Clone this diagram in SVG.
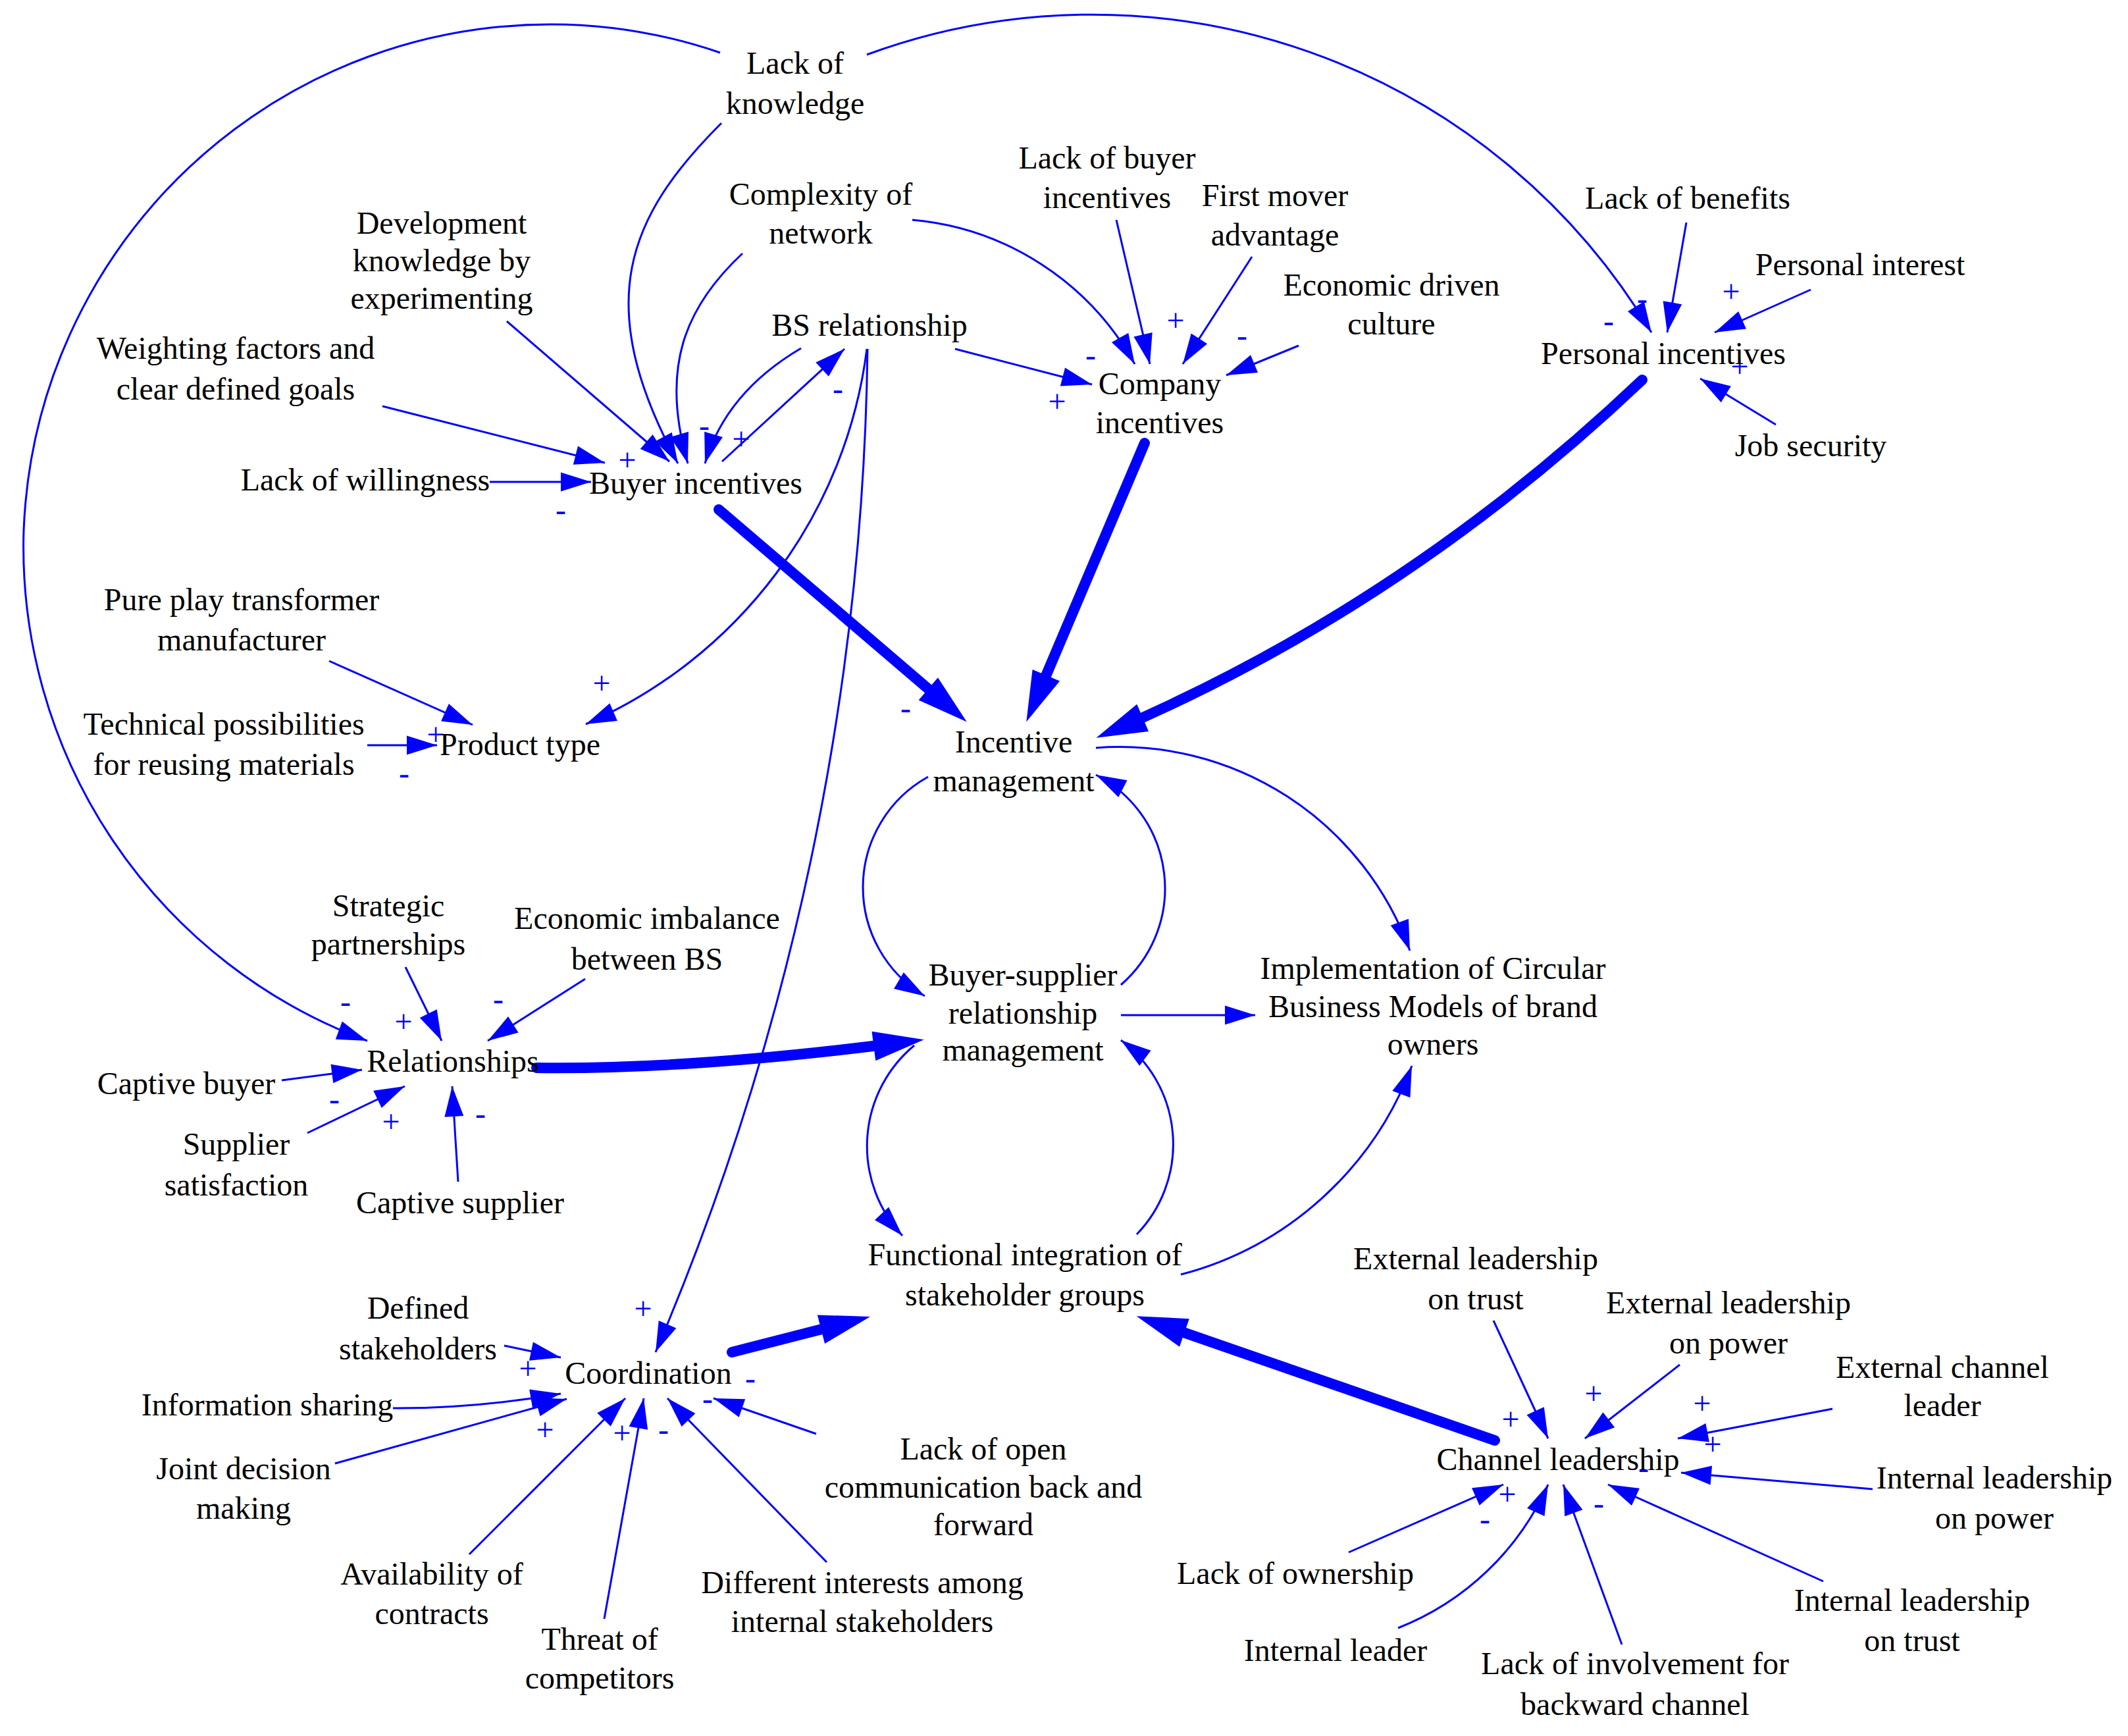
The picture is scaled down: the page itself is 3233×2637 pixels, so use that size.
<svg xmlns="http://www.w3.org/2000/svg" width="3233" height="2637" viewBox="0 0 3233 2637">
<style>
.n{font-family:"Liberation Serif","Times New Roman",serif;font-size:48px;fill:#000;text-anchor:middle}
.p{font-family:"Liberation Serif","Times New Roman",serif;font-size:48px;fill:#0000ff;text-anchor:middle}
.c{fill:none;stroke:#0000ff;stroke-width:3;marker-end:url(#ah)}
.t{fill:none;stroke:#0000ff;stroke-width:16;stroke-linecap:round;marker-end:url(#ahT)}
</style>
<defs>
<marker id="ah" markerUnits="userSpaceOnUse" viewBox="0 0 46 29" markerWidth="46" markerHeight="29" refX="46" refY="14.5" orient="auto" overflow="visible"><path d="M0,0 L46,14.5 L0,29 z" fill="#0000ff"/></marker>
<marker id="ahT" markerUnits="userSpaceOnUse" viewBox="0 0 77 45" markerWidth="77" markerHeight="45" refX="47" refY="22.5" orient="auto" overflow="visible"><path d="M0,0 L77,22.5 L0,45 z" fill="#0000ff"/></marker>
</defs>
<rect width="3233" height="2637" fill="#fff"/>
<g id="connectors">
<path class="c" d="M1094,80 A800,800 0 0 0 36,806 A800,800 0 0 0 558,1581"/>
<path class="c" d="M1317,83 A990,990 0 0 1 2509,505"/>
<path class="c" d="M1096,187 C956,327 896,458 1030,704"/>
<path class="c" d="M1128,385 C1040,467 1003,560 1045,704"/>
<path class="c" d="M1217,529 Q1103,596 1071,704"/>
<path class="c" d="M770,488 L1017,701"/>
<path class="c" d="M581,617 L919,703"/>
<path class="c" d="M744,732 L898,732"/>
<path class="c" d="M1097,701 L1283,530"/>
<path class="c" d="M1317,530 A720,720 0 0 1 890,1100"/>
<path class="c" d="M1318,530 A4015,4015 0 0 1 996,2054"/>
<path class="c" d="M1451,530 L1659,584"/>
<path class="c" d="M1386,334 A430,430 0 0 1 1724,553"/>
<path class="c" d="M1696,334 L1747,553"/>
<path class="c" d="M1902,390 L1797,553"/>
<path class="c" d="M1973,525 L1863,570"/>
<path class="c" d="M2562,338 L2533,505"/>
<path class="c" d="M2751,440 L2605,505"/>
<path class="c" d="M2698,645 L2583,575"/>
<path class="c" d="M500,1004 L718,1101"/>
<path class="c" d="M558,1132 L664,1132"/>
<path class="c" d="M616,1469 L671,1581"/>
<path class="c" d="M889,1487 L741,1581"/>
<path class="c" d="M428,1641 L550,1625"/>
<path class="c" d="M467,1721 L615,1650"/>
<path class="c" d="M696,1795 L687,1650"/>
<path class="c" d="M1410,1180 A192,192 0 0 0 1405,1513"/>
<path class="c" d="M1703,1496 A194,194 0 0 0 1665,1177"/>
<path class="c" d="M1665,1136 A469,469 0 0 1 2142,1444"/>
<path class="c" d="M1703,1542 L1907,1542"/>
<path class="c" d="M1389,1588 A199,199 0 0 0 1371,1877"/>
<path class="c" d="M1727,1875 A197,197 0 0 0 1703,1580"/>
<path class="c" d="M1794,1936 A514,514 0 0 0 2145,1619"/>
<path class="c" d="M766,2044 L852,2062"/>
<path class="c" d="M597,2139 Q720,2140 852,2117"/>
<path class="c" d="M509,2223 L861,2125"/>
<path class="c" d="M713,2361 L950,2124"/>
<path class="c" d="M918,2459 L978,2124"/>
<path class="c" d="M1256,2373 L1014,2124"/>
<path class="c" d="M1240,2178 L1084,2124"/>
<path class="c" d="M2269,2006 L2352,2185"/>
<path class="c" d="M2552,2073 L2408,2185"/>
<path class="c" d="M2784,2140 L2549,2185"/>
<path class="c" d="M2845,2262 L2554,2237"/>
<path class="c" d="M2770,2402 L2443,2255"/>
<path class="c" d="M2049,2358 L2284,2255"/>
<path class="c" d="M2124,2473 A416,416 0 0 0 2352,2255"/>
<path class="c" d="M2464,2498 L2375,2255"/>
<path class="t" d="M1092,774 L1446,1077"/>
<path class="t" d="M1739,673 L1571,1069"/>
<path class="t" d="M2495,577 Q2135,919 1693,1109"/>
<path class="t" d="M815,1622 Q1050,1625 1374,1583"/>
<path class="t" d="M1112,2054 L1293,2007.5"/>
<path class="t" d="M2271,2188 L1755,2009"/>
</g>
<g id="polarities">
<text class="p" x="953" y="715">+</text>
<text class="p" x="852" y="791">-</text>
<text class="p" x="1070" y="663">-</text>
<text class="p" x="1126" y="683">+</text>
<text class="p" x="1273" y="607">-</text>
<text class="p" x="1606" y="626">+</text>
<text class="p" x="1657" y="556">-</text>
<text class="p" x="1786" y="503">+</text>
<text class="p" x="1887" y="526">-</text>
<text class="p" x="2444" y="504">-</text>
<text class="p" x="2495" y="470">-</text>
<text class="p" x="2630" y="459">+</text>
<text class="p" x="2643" y="573">+</text>
<text class="p" x="914" y="1054">+</text>
<text class="p" x="1376" y="1092">-</text>
<text class="p" x="662" y="1132">+</text>
<text class="p" x="614" y="1191">-</text>
<text class="p" x="525" y="1538">-</text>
<text class="p" x="613" y="1568">+</text>
<text class="p" x="757" y="1534">-</text>
<text class="p" x="508" y="1686">-</text>
<text class="p" x="594" y="1720">+</text>
<text class="p" x="730" y="1708">-</text>
<text class="p" x="977" y="2004">+</text>
<text class="p" x="802" y="2095">+</text>
<text class="p" x="828" y="2188">+</text>
<text class="p" x="945" y="2193">+</text>
<text class="p" x="1008" y="2188">-</text>
<text class="p" x="1075" y="2141">-</text>
<text class="p" x="1140" y="2110">-</text>
<text class="p" x="2295" y="2172">+</text>
<text class="p" x="2421" y="2133">+</text>
<text class="p" x="2586" y="2148">+</text>
<text class="p" x="2602" y="2210">+</text>
<text class="p" x="2497" y="2246">-</text>
<text class="p" x="2290" y="2286">+</text>
<text class="p" x="2256" y="2324">-</text>
<text class="p" x="2429" y="2300">-</text>
</g>
<g id="n-lack-of-knowledge"><text class="n" x="1208" y="112">Lack of</text><text class="n" x="1208" y="173">knowledge</text></g>
<g id="n-complexity-of-network"><text class="n" x="1247" y="311">Complexity of</text><text class="n" x="1247" y="370">network</text></g>
<g id="n-lack-of-buyer-incentives"><text class="n" x="1682" y="256">Lack of buyer</text><text class="n" x="1682" y="316">incentives</text></g>
<g id="n-first-mover-advantage"><text class="n" x="1937" y="313">First mover</text><text class="n" x="1937" y="373">advantage</text></g>
<g id="n-economic-driven-culture"><text class="n" x="2114" y="449">Economic driven</text><text class="n" x="2114" y="508">culture</text></g>
<g id="n-lack-of-benefits"><text class="n" x="2564" y="317">Lack of benefits</text></g>
<g id="n-personal-interest"><text class="n" x="2826" y="418">Personal interest</text></g>
<g id="n-personal-incentives"><text class="n" x="2527" y="553">Personal incentives</text></g>
<g id="n-job-security"><text class="n" x="2751" y="693">Job security</text></g>
<g id="n-development-knowledge"><text class="n" x="671" y="355">Development</text><text class="n" x="671" y="412">knowledge by</text><text class="n" x="671" y="469">experimenting</text></g>
<g id="n-weighting-factors"><text class="n" x="358" y="545">Weighting factors and</text><text class="n" x="358" y="607">clear defined goals</text></g>
<g id="n-lack-of-willingness"><text class="n" x="555" y="745">Lack of willingness</text></g>
<g id="n-buyer-incentives"><text class="n" x="1057" y="750">Buyer incentives</text></g>
<g id="n-bs-relationship"><text class="n" x="1321" y="510">BS relationship</text></g>
<g id="n-company-incentives"><text class="n" x="1762" y="599">Company</text><text class="n" x="1762" y="658">incentives</text></g>
<g id="n-pure-play"><text class="n" x="367" y="927">Pure play transformer</text><text class="n" x="367" y="988">manufacturer</text></g>
<g id="n-technical-possibilities"><text class="n" x="340" y="1116">Technical possibilities</text><text class="n" x="340" y="1177">for reusing materials</text></g>
<g id="n-product-type"><text class="n" x="790" y="1147">Product type</text></g>
<g id="n-incentive-management"><text class="n" x="1540" y="1143">Incentive</text><text class="n" x="1540" y="1202">management</text></g>
<g id="n-strategic-partnerships"><text class="n" x="590" y="1392">Strategic</text><text class="n" x="590" y="1450">partnerships</text></g>
<g id="n-economic-imbalance"><text class="n" x="983" y="1411">Economic imbalance</text><text class="n" x="983" y="1473">between BS</text></g>
<g id="n-relationships"><text class="n" x="688" y="1628">Relationships</text></g>
<g id="n-captive-buyer"><text class="n" x="283" y="1662">Captive buyer</text></g>
<g id="n-supplier-satisfaction"><text class="n" x="359" y="1754">Supplier</text><text class="n" x="359" y="1816">satisfaction</text></g>
<g id="n-captive-supplier"><text class="n" x="699" y="1843">Captive supplier</text></g>
<g id="n-bs-relationship-management"><text class="n" x="1554" y="1497">Buyer-supplier</text><text class="n" x="1554" y="1555">relationship</text><text class="n" x="1554" y="1611">management</text></g>
<g id="n-implementation"><text class="n" x="2177" y="1487">Implementation of Circular</text><text class="n" x="2177" y="1545">Business Models of brand</text><text class="n" x="2177" y="1602">owners</text></g>
<g id="n-functional-integration"><text class="n" x="1557" y="1922">Functional integration of</text><text class="n" x="1557" y="1983">stakeholder groups</text></g>
<g id="n-defined-stakeholders"><text class="n" x="635" y="2003">Defined</text><text class="n" x="635" y="2065">stakeholders</text></g>
<g id="n-coordination"><text class="n" x="985" y="2102">Coordination</text></g>
<g id="n-information-sharing"><text class="n" x="406" y="2150">Information sharing</text></g>
<g id="n-joint-decision"><text class="n" x="370" y="2247">Joint decision</text><text class="n" x="370" y="2307">making</text></g>
<g id="n-availability-contracts"><text class="n" x="656" y="2407">Availability of</text><text class="n" x="656" y="2467">contracts</text></g>
<g id="n-threat-competitors"><text class="n" x="911" y="2506">Threat of</text><text class="n" x="911" y="2565">competitors</text></g>
<g id="n-different-interests"><text class="n" x="1310" y="2420">Different interests among</text><text class="n" x="1310" y="2479">internal stakeholders</text></g>
<g id="n-lack-open-communication"><text class="n" x="1494" y="2217">Lack of open</text><text class="n" x="1494" y="2275">communication back and</text><text class="n" x="1494" y="2332">forward</text></g>
<g id="n-external-leadership-trust"><text class="n" x="2242" y="1928">External leadership</text><text class="n" x="2242" y="1989">on trust</text></g>
<g id="n-external-leadership-power"><text class="n" x="2626" y="1995">External leadership</text><text class="n" x="2626" y="2056">on power</text></g>
<g id="n-external-channel-leader"><text class="n" x="2951" y="2093">External channel</text><text class="n" x="2951" y="2151">leader</text></g>
<g id="n-channel-leadership"><text class="n" x="2367" y="2233">Channel leadership</text></g>
<g id="n-internal-leadership-power"><text class="n" x="3030" y="2261">Internal leadership</text><text class="n" x="3030" y="2322">on power</text></g>
<g id="n-internal-leadership-trust"><text class="n" x="2905" y="2447">Internal leadership</text><text class="n" x="2905" y="2508">on trust</text></g>
<g id="n-lack-of-ownership"><text class="n" x="1968" y="2406">Lack of ownership</text></g>
<g id="n-internal-leader"><text class="n" x="2029" y="2523">Internal leader</text></g>
<g id="n-lack-of-involvement"><text class="n" x="2484" y="2543">Lack of involvement for</text><text class="n" x="2484" y="2605">backward channel</text></g>
</svg>
